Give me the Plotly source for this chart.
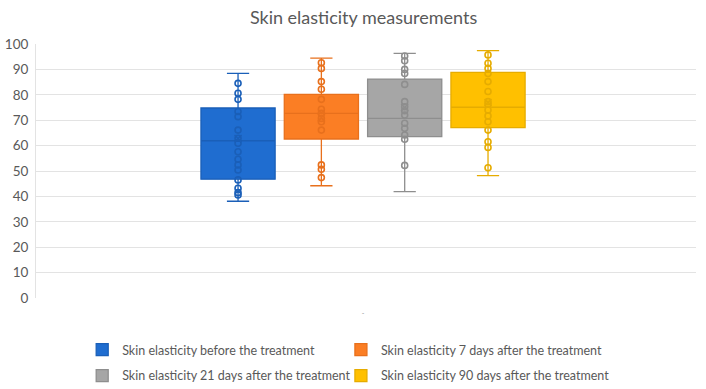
import plotly.graph_objects as go

category = ["-"]
series_names = [
    "Skin elasticity before the treatment",
    "Skin elasticity 7 days after the treatment",
    "Skin elasticity 21 days after the treatment",
    "Skin elasticity 90 days after the treatment",
]
fill_colors = ["#1F6DD0", "#FB7E24", "#A6A6A6", "#FFC000"]
line_colors = ["#1A5FB8", "#E8701C", "#8E8E8E", "#E6AC00"]

q1 = [46.8, 62.6, 63.5, 67.1]
median = [61.9, 72.7, 70.7, 75.1]
q3 = [74.8, 80.2, 86.2, 88.8]
lower = [38.1, 44.2, 41.9, 48.2]
upper = [88.4, 94.4, 96.3, 97.4]
means = [62.8, 71.0, 75.0, 77.0]

points_before = [84.5, 80.6, 78.2, 73.4, 71.4, 66.1, 62.9, 60.9, 57.6, 54.6, 52.4, 50.4, 46.5, 43.2, 41.5, 40.6]
points_7d = [92.6, 90.4, 85.2, 82.2, 78.2, 74.3, 72.7, 70.7, 69.4, 66.1, 52.4, 50.7, 47.4]
points_21d = [95.3, 93.4, 90.0, 88.4, 84.1, 77.3, 75.3, 73.7, 72.0, 68.8, 66.8, 64.2, 62.5, 52.2]
points_90d = [95.7, 92.4, 90.4, 88.4, 85.2, 81.3, 77.3, 76.3, 74.0, 71.7, 69.4, 66.1, 61.5, 59.3, 51.3]
all_points = [points_before, points_7d, points_21d, points_90d]

y_ticks = [0, 10, 20, 30, 40, 50, 60, 70, 80, 90, 100]

legend_ids = ["legend", "legend2", "legend3", "legend4"]

fig = go.Figure()
for i, name in enumerate(series_names):
    fig.add_trace(go.Box(
        x=category, q1=[q1[i]], median=[median[i]], q3=[q3[i]],
        lowerfence=[lower[i]], upperfence=[upper[i]],
        name=name, offsetgroup=str(i),
        fillcolor=fill_colors[i], line=dict(color=line_colors[i], width=1.3),
        whiskerwidth=0.3, boxpoints=False, hoverinfo="skip",
        legend=legend_ids[i],
    ))
for i, pts in enumerate(all_points):
    fig.add_trace(go.Scatter(
        x=category * len(pts), y=pts, mode="markers", offsetgroup=str(i),
        marker=dict(symbol="circle-open", size=6, color=line_colors[i], line=dict(width=1.6)),
        showlegend=False, hoverinfo="skip",
    ))
    fig.add_trace(go.Scatter(
        x=category, y=[means[i]], mode="markers", offsetgroup=str(i),
        marker=dict(symbol="x-thin", size=7, color=line_colors[i], line=dict(width=1.5, color=line_colors[i])),
        showlegend=False, hoverinfo="skip",
    ))

font_family = "Lato"
grey = "#595959"
leg_common = dict(orientation="h", xanchor="left", yanchor="middle", itemwidth=30,
                  font=dict(family=font_family, size=12.5, color=grey),
                  bgcolor="rgba(0,0,0,0)")
legend_x = [0.07, 0.462, 0.07, 0.462]
legend_y = [-0.205, -0.205, -0.307, -0.307]

fig.update_layout(
    width=706, height=389,
    margin=dict(l=36, r=10, t=44, b=91, autoexpand=False),
    paper_bgcolor="white", plot_bgcolor="white",
    title=dict(text="Skin elasticity measurements", x=0.515, xanchor="center", y=0.955, yanchor="middle",
               font=dict(family=font_family, size=18, color=grey)),
    boxmode="group", boxgap=0.495, boxgroupgap=0.11,
    scattermode="group", scattergap=0.495,
    xaxis=dict(range=[-0.4955, 0.5045], showgrid=False, zeroline=False, showline=False,
               ticks="", ticklabelstandoff=10,
               tickfont=dict(family=font_family, size=7, color="#999999")),
    yaxis=dict(range=[0, 100], tickvals=y_ticks, showgrid=True, gridcolor="#E3E3E3", gridwidth=1,
               zeroline=False, showline=True, linecolor="#E3E3E3", ticks="", ticklabelstandoff=4,
               tickfont=dict(family=font_family, size=13.5, color=grey)),
    showlegend=True,
)
for lid, lx, ly in zip(legend_ids, legend_x, legend_y):
    fig.update_layout({lid: dict(x=lx, y=ly, **leg_common)})
fig.write_html("out.html")
